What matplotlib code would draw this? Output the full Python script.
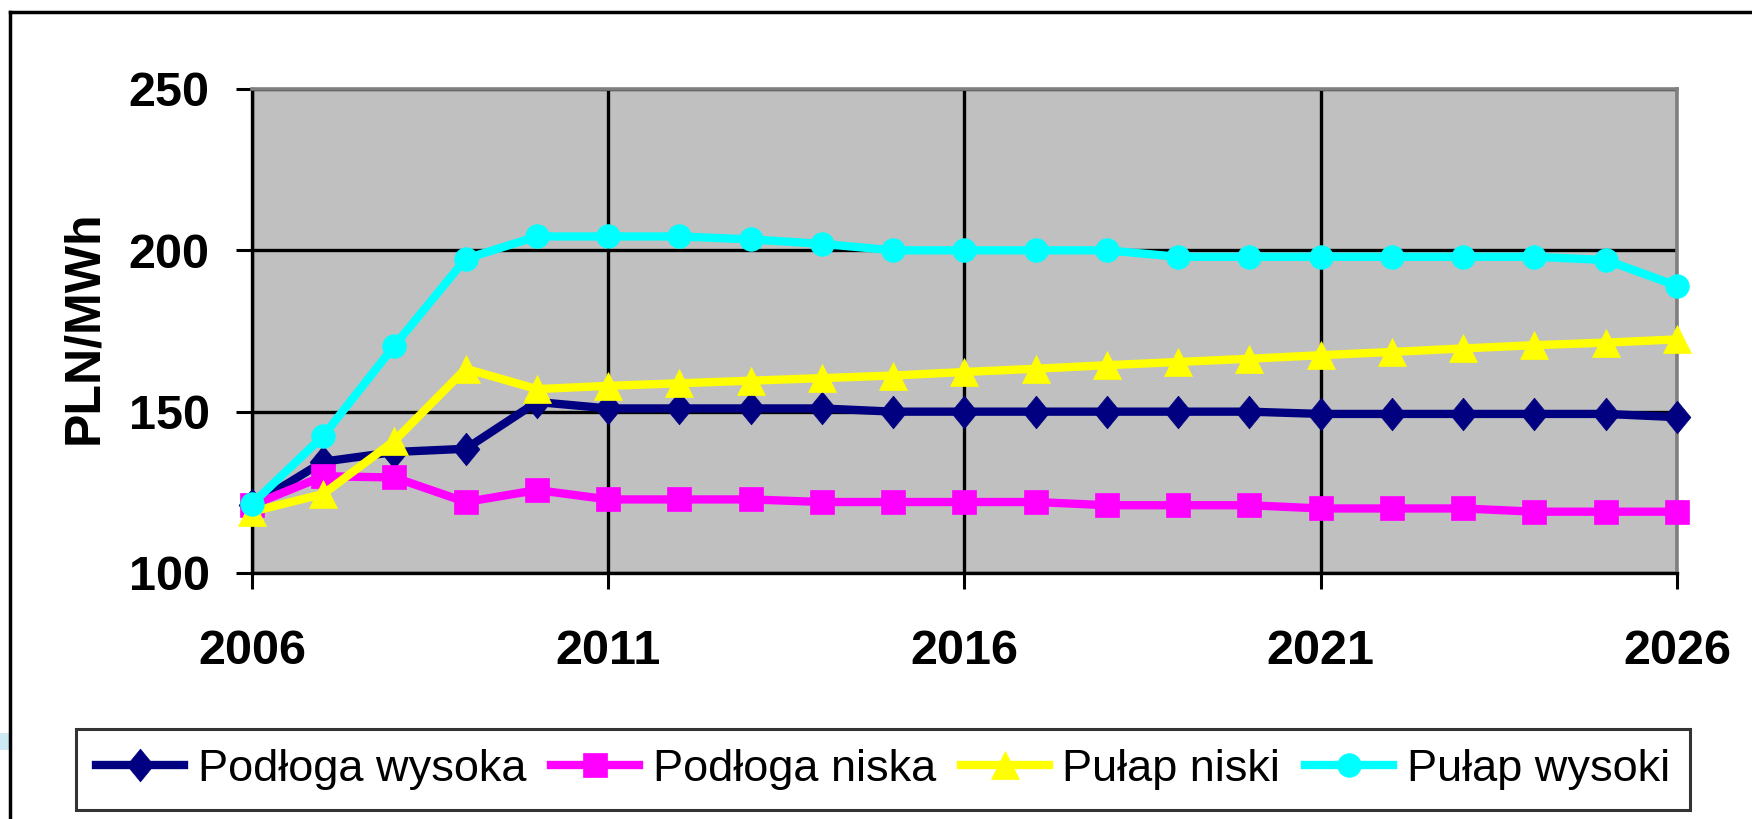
import numpy as np
import matplotlib.pyplot as plt
from matplotlib.lines import Line2D
from matplotlib.patches import Rectangle

plt.rcParams['font.family'] = ['Liberation Sans', 'DejaVu Sans']

years = np.arange(2006, 2027)
podloga_wysoka = [121, 134.5, 137.5, 138.5, 153, 151, 151, 151, 151, 150, 150,
                  150, 150, 150, 150, 149.3, 149.3, 149.3, 149.3, 149.3, 148.3]
podloga_niska = [121, 130, 129.6, 122, 125.7, 122.8, 122.8, 122.8, 122, 122, 122,
                 122, 121, 121, 121, 120, 120, 120, 119, 119, 119]
pulap_niski = [119, 124.5, 141, 163.3, 157, 158, 158.8, 159.6, 160.4, 161.2, 162.3,
               163.3, 164.4, 165.4, 166.4, 167.5, 168.5, 169.6, 170.6, 171.4, 172.4]
pulap_wysoki = [121.4, 142.5, 170.5, 197.4, 204.3, 204.3, 204.3, 203.4, 202, 200, 200,
                200, 200, 198, 198, 198, 198, 198, 198, 197, 189]

labels = ['Podłoga wysoka', 'Podłoga niska', 'Pułap niski', 'Pułap wysoki']
series = [podloga_wysoka, podloga_niska, pulap_niski, pulap_wysoki]
colors = ['#000080', '#FF00FF', '#FFFF00', '#00FFFF']
# Excel-style diamond is a bit taller than wide
diamond = [(0, 1), (0.82, 0), (0, -1), (-0.82, 0), (0, 1)]
markers = [diamond, 's', '^', 'o']
msizes = [23.5, 17, 20, 17]

fig = plt.figure(figsize=(17.52, 8.19), dpi=100)
ax = fig.add_axes([252 / 1752, 1 - 573 / 819, (1677 - 252) / 1752, (573 - 89) / 819])
ax.set_facecolor('#C0C0C0')

for ys, lab, c, m, ms in zip(series, labels, colors, markers, msizes):
    ax.plot(years, ys, color=c, lw=6, marker=m, ms=ms, mec=c, mfc=c, mew=0.5,
            label=lab, clip_on=False, zorder=3)

ax.set_xlim(2006, 2026)
ax.set_ylim(100, 250)
ax.set_xticks([2006, 2011, 2016, 2021, 2026])
ax.set_yticks([100, 150, 200, 250])
ax.grid(True, color='black', lw=2.4, zorder=1)
ax.set_axisbelow(True)
ax.tick_params(direction='out', length=11.5, width=2.2, color='black', labelsize=35)
ax.tick_params(axis='x', pad=29)
ax.tick_params(axis='y', pad=19)
for t in ax.get_xticklabels() + ax.get_yticklabels():
    t.set_fontweight('bold')
for s in ['left', 'bottom']:
    ax.spines[s].set_color('black')
    ax.spines[s].set_linewidth(2.4)
for s in ['top', 'right']:
    ax.spines[s].set_color('#808080')
    ax.spines[s].set_linewidth(2.6)

fig.text(84 / 1752, 1 - 327 / 819, 'PLN/MWh', rotation=90, ha='center', va='center',
         fontsize=36, fontweight='bold')

leg = fig.legend(loc='center', ncol=4, fontsize=32.5, frameon=True, fancybox=False,
                 bbox_to_anchor=(79 / 1752, 1 - 812 / 819, (1687 - 79) / 1752, (812 - 727) / 819),
                 handlelength=1.95, handletextpad=0.3, columnspacing=0.55, borderpad=0.45)
leg.get_frame().set_edgecolor('black')
leg.get_frame().set_linewidth(2.2)

# outer frame of the chart (only left and top edges are visible)
fig.add_artist(Line2D([10 / 1752, 10 / 1752], [0, 1 - 12 / 819], color='black', lw=2.5))
fig.add_artist(Line2D([10 / 1752, 1], [1 - 12 / 819, 1 - 12 / 819], color='black', lw=2.5))
fig.add_artist(Rectangle((0, 1 - 750 / 819), 9 / 1752, 17 / 819, color='#CDEAF2', lw=0))

fig.savefig('out.png', dpi=100)
